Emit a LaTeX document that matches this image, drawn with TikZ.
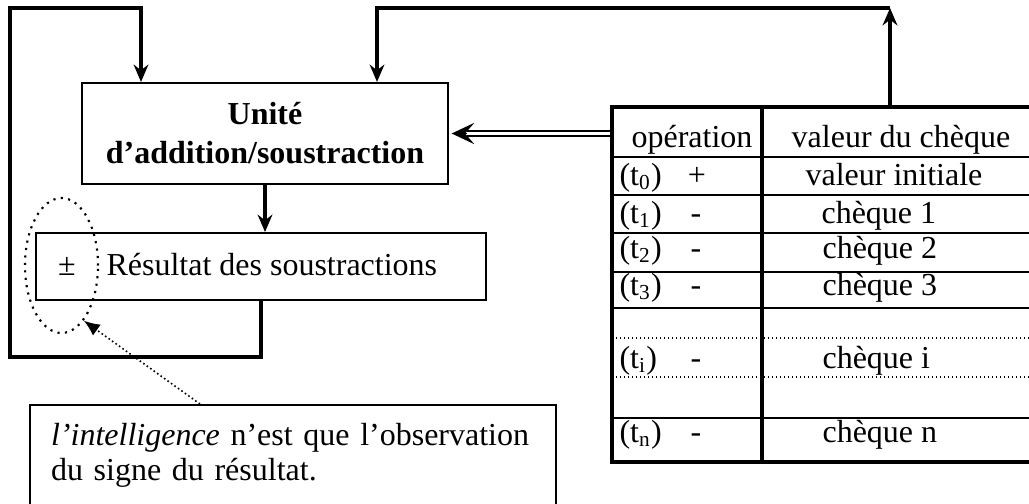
\documentclass[tikz,border=0pt]{standalone}
\usepackage{fontspec}
\setmainfont{Liberation Serif}
\usepackage{tikz}
\usetikzlibrary{calc}
\usetikzlibrary{arrows.meta}
\usetikzlibrary{shapes.geometric}

\tikzset{
  boite/.style={draw, line width=0.75pt, inner sep=0pt},
  cadre/.style={draw, line width=1.5pt, inner sep=0pt},
  fleche/.style={line width=1.4pt, arrows=-{Stealth[length=6.5pt,width=5.5pt]}},
  case/.style={anchor=base, inner sep=0pt},
  zone/.style={ellipse, draw, dotted, line width=0.8pt, inner sep=0pt}
}

\begin{document}
\begin{tikzpicture}[x=0.375pt, y=-0.375pt, font=\fontsize{12}{13.2}\selectfont]
      \useasboundingbox (0,0) rectangle (1029,503);
      \clip (0,0) rectangle (1029,503);
      \node [boite, minimum width=137.25pt, minimum height=37.9pt, align=center, font=\fontsize{12}{14.6}\selectfont\bfseries] (unite) at (265,133.5) {Unité\\d’addition/soustraction}; % unite
      \node [boite, minimum width=168.75pt, minimum height=25.1pt] (resultat) at (261,266.5) {}; % resultat
      \node [case] (signe) at (67,275) {±};
      \node [case, anchor=base west] (texteres) at (106,275) {Résultat des soustractions};
      \node [zone, minimum width=27.4pt, minimum height=50.6pt] (zone) at (61.5,265.5) {}; % signe entoure
      \draw [fleche] (unite.south) -- (unite.south |- resultat.north);
      % boucle gauche
      \coordinate (basgauche) at (10,357);
      \coordinate (hautgauche) at (10,8);
      \draw [fleche] (resultat.south) |- (basgauche) -- (hautgauche) -| ($(unite.north west)+(60,0)$);
      % tableau
      \node [cadre, minimum width=157.5pt, minimum height=133.1pt] (tableau) at (822,284.5) {};
      \coordinate (col) at (762,0);
      \draw [line width=1.5pt] (col |- tableau.north) -- (col |- tableau.south);
      \draw [line width=0.8pt] (612,157) -- (1032,157);
      \draw [line width=0.6pt] (612,195) -- (1032,195);
      \draw [line width=0.6pt] (612,233) -- (1032,233);
      \draw [line width=0.6pt] (612,272) -- (1032,272);
      \draw [line width=0.6pt] (612,308) -- (1032,308);
      \draw [line width=0.5pt, densely dotted] (612,338) -- (1032,338);
      \draw [line width=0.5pt, densely dotted] (612,377) -- (1032,377);
      \draw [line width=0.6pt] (612,418) -- (1032,418);
      \node [case] (entete1) at (692,147) {opération};
      \node [case] (entete2) at (901,147) {valeur du chèque};
      \node [case, anchor=base west] (t0) at (619,185) {(t\textsubscript{0})};
      \node [case] (s0) at (697,185) {+};
      \node [case, anchor=base west] (v0) at (805,185) {valeur initiale};
      \node [case, anchor=base west] (t1) at (619,223) {(t\textsubscript{1})};
      \node [case] (s1) at (696,223) {-};
      \node [case, anchor=base west] (v1) at (821,223) {chèque 1};
      \node [case, anchor=base west] (t2) at (619,258) {(t\textsubscript{2})};
      \node [case] (s2) at (696,258) {-};
      \node [case, anchor=base west] (v2) at (822,258) {chèque 2};
      \node [case, anchor=base west] (t3) at (619,295) {(t\textsubscript{3})};
      \node [case] (s3) at (696,295) {-};
      \node [case, anchor=base west] (v3) at (822,295) {chèque 3};
      \node [case, anchor=base west] (ti) at (619,368) {(t\textsubscript{i})};
      \node [case] (si) at (696,368) {-};
      \node [case, anchor=base west] (vi) at (822,368) {chèque i};
      \node [case, anchor=base west] (tn) at (619,442) {(t\textsubscript{n})};
      \node [case] (sn) at (696,442) {-};
      \node [case, anchor=base west] (vn) at (822,442) {chèque n};
      % operations vers unite
      \coordinate (pointe) at ($(unite.east)+(18,0)$);
      \draw [double, double distance=1.2pt, line width=0.6pt] (tableau.west |- unite.east) -- (pointe);
      \draw [line width=0.6pt, arrows=-{Stealth[length=8.5pt,width=8pt,inset=3.5pt]}, shorten >=1pt] (pointe) -- (unite.east);
      % boucle droite
      \coordinate (hautdroit) at (890,8);
      \draw [fleche] (tableau.north -| hautdroit) -- (hautdroit);
      \draw [fleche] (hautdroit) -| ($(unite.north west)+(296,0)$);
      % remarque
      \node [boite, anchor=north west, align=left, text width=181.4pt, inner xsep=7.9pt, inner ysep=6.8pt] (remarque) at (29,404) {\textit{l’intelligence} n’est que l’observation\\du signe du résultat.\rule[-16pt]{0pt}{16pt}};
      \draw [densely dotted, line width=0.6pt, arrows=-{Latex[length=6pt,width=5pt]}] ($(remarque.north west)+(171,0)$) -- (zone.-68);
\end{tikzpicture}
\end{document}
